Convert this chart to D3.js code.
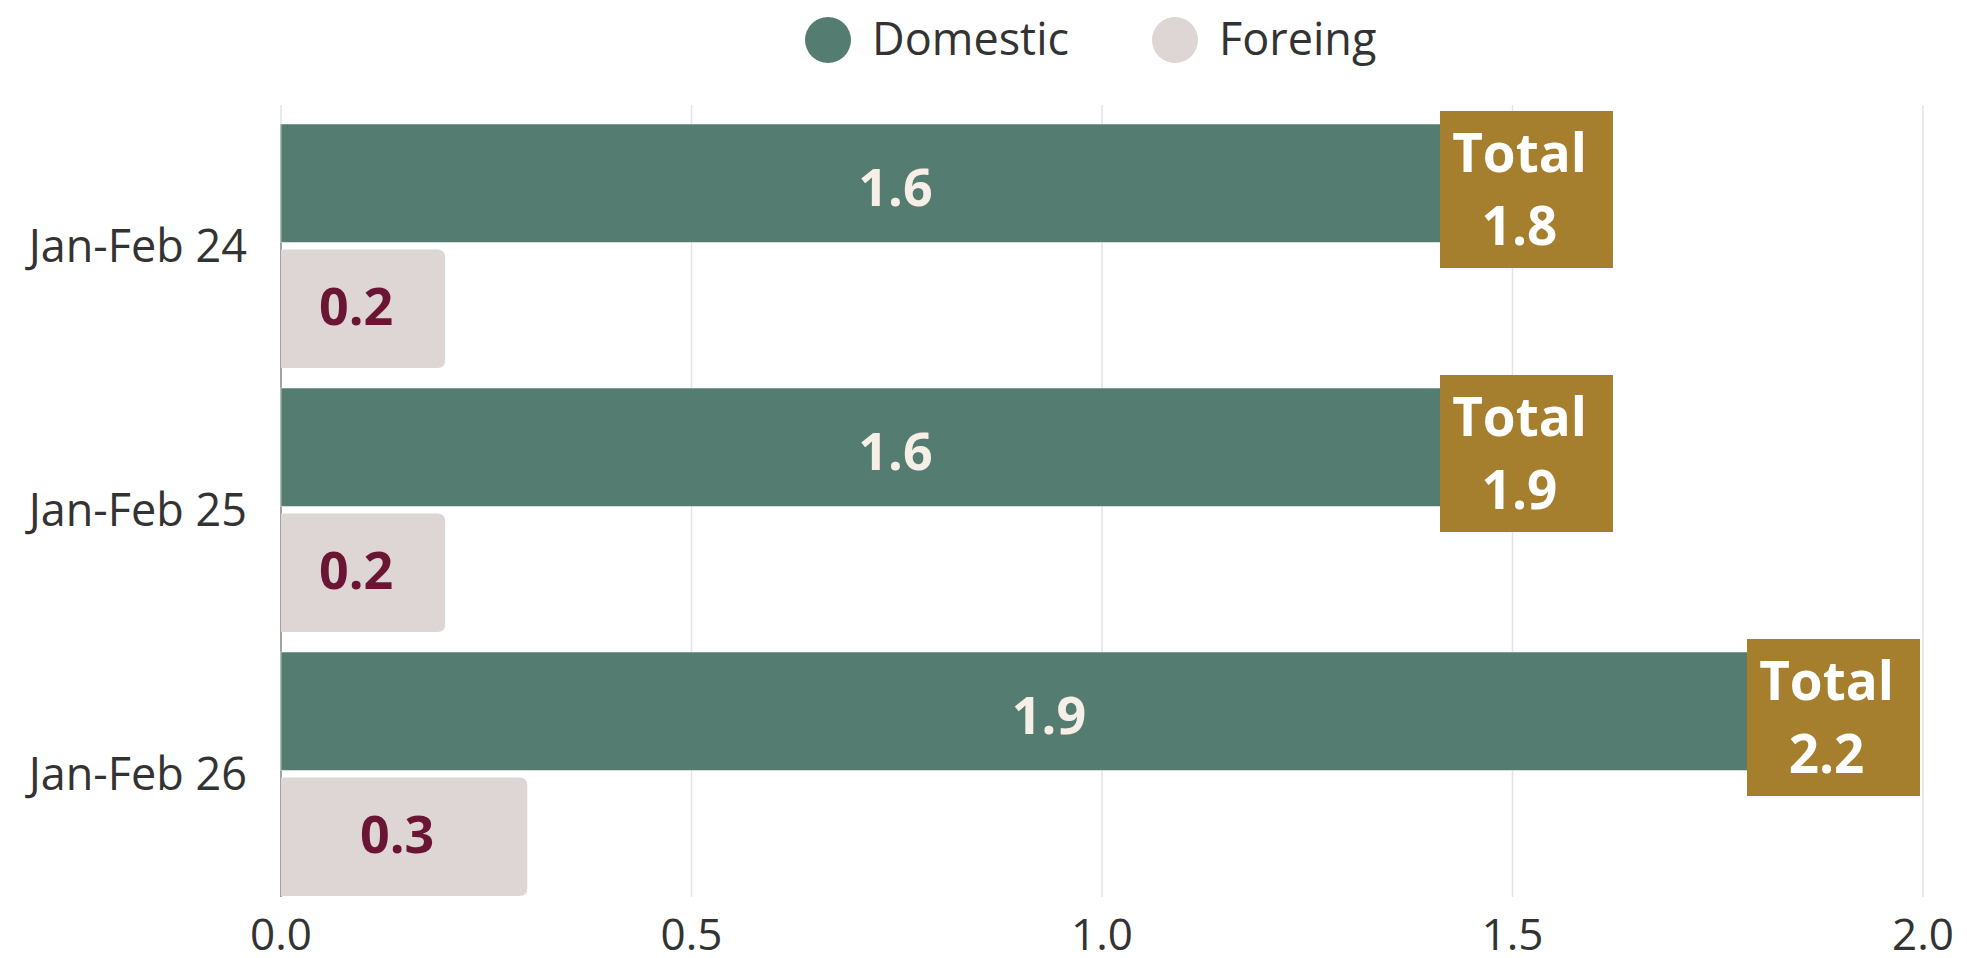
<!DOCTYPE html>
<html>
<head>
<meta charset="utf-8">
<script src="https://cdn.jsdelivr.net/npm/d3@7"></script>
<style>
  html, body { margin: 0; padding: 0; background: #fff; }
  svg { display: block; font-family: "Open Sans", "Noto Sans", sans-serif; }
</style>
</head>
<body>
<div id="chart"></div>
<script>
// data
var categories = ["Jan-Feb 24", "Jan-Feb 25", "Jan-Feb 26"];
var domestic = [1.57, 1.57, 1.944];
var foreign = [0.2, 0.2, 0.3];
var totals = [1.8, 1.9, 2.2];
var seriesNames = ["Domestic", "Foreing"];
var xTicks = [0, 0.5, 1, 1.5, 2];

var width = 1967, height = 958;
var colors = { dom: "#547c70", forn: "#ded5d5", total: "#a67f2e", fornText: "#6b1535", domText: "#f6efe8", text: "#333333" };

var svg = d3.select("#chart").append("svg")
	.attr("width", width)
	.attr("height", height);

// faint watermark arcs, bottom left
var wm = svg.append("g").attr("fill", "none").attr("stroke", "#f7f7f7").attr("stroke-width", 46);
[430, 600].forEach(function(r) {
	wm.append("path")
		.attr("d", d3.arc()({ innerRadius: r, outerRadius: r, startAngle: 0, endAngle: Math.PI / 2 }))
		.attr("transform", "translate(-250,1200) rotate(-90)");
});

var x = d3.scaleLinear().domain([0, 2]).range([281, 1923]);
var y = d3.scaleBand().domain(categories).range([114, 906]).paddingInner(20 / 264).paddingOuter(10 / 264);
var sub = d3.scaleBand().domain(seriesNames).range([0, y.bandwidth()]).paddingInner(7 / 125.5);

// grid lines
svg.append("g").selectAll("line")
	.data(xTicks)
	.enter().append("line")
	.attr("x1", function(d) { return x(d); })
	.attr("x2", function(d) { return x(d); })
	.attr("y1", 105)
	.attr("y2", 897)
	.attr("stroke", "#e3e3e3")
	.attr("stroke-width", 1.5);

// x tick labels
svg.append("g").selectAll("text")
	.data(xTicks)
	.enter().append("text")
	.attr("x", function(d) { return x(d); })
	.attr("y", 950)
	.attr("text-anchor", "middle")
	.attr("font-size", 44)
	.attr("fill", colors.text)
	.text(d3.format(".1f"));

// y axis line
svg.append("line")
	.attr("x1", x(0)).attr("x2", x(0))
	.attr("y1", 124).attr("y2", 897)
	.attr("stroke", "#8a8a8a")
	.attr("stroke-width", 1.5);

// category labels
svg.append("g").selectAll("text")
	.data(categories)
	.enter().append("text")
	.attr("x", x(0) - 34)
	.attr("y", function(d) { return y(d) + y.bandwidth() / 2; })
	.attr("dy", "0.35em")
	.attr("text-anchor", "end")
	.attr("font-size", 45)
	.attr("fill", colors.text)
	.text(function(d) { return d; });

var rows = categories.map(function(c, i) {
	return { cat: c, dom: domestic[i], forn: foreign[i], total: totals[i] };
});

var g = svg.append("g").selectAll("g")
	.data(rows)
	.enter().append("g")
	.attr("transform", function(d) { return "translate(0," + y(d.cat) + ")"; });

// domestic bars
g.append("rect")
	.attr("x", x(0))
	.attr("y", sub("Domestic"))
	.attr("width", function(d) { return x(d.dom) - x(0); })
	.attr("height", sub.bandwidth())
	.attr("fill", colors.dom)
	.attr("stroke", "#ffffff")
	.attr("stroke-opacity", 0.5)
	.attr("stroke-width", 1);

// foreign bars, rounded at the end
var r = 8;
g.append("path")
	.attr("d", function(d) {
		var x0 = x(0), x1 = x(d.forn), y0 = sub("Foreing"), y1 = y0 + sub.bandwidth();
		return "M" + x0 + "," + y0 + "H" + (x1 - r) + "Q" + x1 + "," + y0 + " " + x1 + "," + (y0 + r)
			+ "V" + (y1 - r) + "Q" + x1 + "," + y1 + " " + (x1 - r) + "," + y1 + "H" + x0 + "Z";
	})
	.attr("fill", colors.forn);

// value labels
g.append("text")
	.attr("x", function(d) { return x(d.dom / 2) - 30; })
	.attr("y", sub("Domestic") + sub.bandwidth() / 2 + 23)
	.attr("text-anchor", "middle")
	.attr("font-size", 52)
	.attr("font-weight", 700)
	.attr("fill", colors.domText)
	.text(function(d) { return d3.format(".1f")(d.dom); });

g.append("text")
	.attr("x", function(d) { return x(d.forn / 2) - 7; })
	.attr("y", sub("Foreing") + sub.bandwidth() / 2 + 16)
	.attr("text-anchor", "middle")
	.attr("font-size", 52)
	.attr("font-weight", 700)
	.attr("fill", colors.fornText)
	.text(function(d) { return d3.format(".1f")(d.forn); });

// total boxes at the end of the domestic bar
var boxW = 173, boxH = 157;
var tot = g.append("g")
	.attr("transform", function(d) {
		var cx = Math.min(x(d.dom) - 43.5, x(2) - 3 - boxW / 2);
		return "translate(" + cx + "," + (sub("Domestic") - 13) + ")";
	});

tot.append("rect")
	.attr("x", -boxW / 2)
	.attr("width", boxW)
	.attr("height", boxH)
	.attr("fill", colors.total);

tot.append("text")
	.attr("x", -7)
	.attr("y", 61)
	.attr("text-anchor", "middle")
	.attr("font-size", 53)
	.attr("font-weight", 700)
	.attr("fill", "#ffffff")
	.text("Total");

tot.append("text")
	.attr("x", -7)
	.attr("y", 134)
	.attr("text-anchor", "middle")
	.attr("font-size", 53)
	.attr("font-weight", 700)
	.attr("fill", "#ffffff")
	.text(function(d) { return d3.format(".1f")(d.total); });

// legend
var legend = svg.append("g").selectAll("g")
	.data(seriesNames)
	.enter().append("g")
	.attr("transform", function(d, i) { return "translate(" + [828, 1175][i] + ",40)"; });

legend.append("circle")
	.attr("r", 23)
	.attr("fill", function(d, i) { return i === 0 ? colors.dom : colors.forn; });

legend.append("text")
	.attr("x", 44)
	.attr("dy", "0.33em")
	.attr("font-size", 45)
	.attr("fill", colors.text)
	.text(function(d) { return d; });
</script>
</body>
</html>
